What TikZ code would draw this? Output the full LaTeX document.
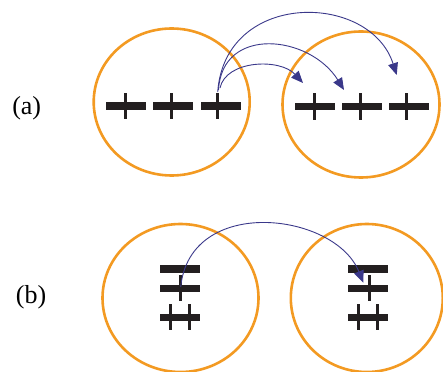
\documentclass[tikz,border=0pt]{standalone}
\usepackage{fontspec}
\setmainfont{Liberation Serif}
\usetikzlibrary{arrows.meta,shapes.geometric}
\definecolor{shell}{RGB}{243,154,34}
\definecolor{ink}{RGB}{35,31,32}
\definecolor{hop}{RGB}{58,56,138}
\tikzset{
  atom/.style={draw=shell, line width=2.6pt, ellipse, inner sep=0pt},
  hopline/.style={draw=hop, line width=0.9pt, -{Triangle[length=12pt,width=10pt]}},
  tag/.style={font=\fontsize{26}{30}\selectfont, inner sep=0pt},
  pics/charge/.style={code={
    \fill[ink] (-20,-3.7) rectangle (20,3.7);
    \fill[ink] (-#1-1.5,-13.2) rectangle (-#1+1.5,13.2);}},
  pics/hbar/.style={code={\fill[ink] (-20,-3.7) rectangle (20,3.7);}},
  pics/vtick/.style={code={\fill[ink] (-1.5,-13) rectangle (1.5,13);}},
}
\begin{document}
\begin{tikzpicture}[x=1pt,y=-1pt]
\useasboundingbox (0,0) rectangle (443,371);

% ---- (a) row ----
\node[tag] (la) at (26.7,108) {(a)};
\node[atom, minimum width=156, minimum height=147] (A1) at (171.7,102) {};
\node[atom, minimum width=157, minimum height=146] (A2) at (361,104.5) {};

\pic at (125.9,106) {charge=0.6};
\pic at (173.3,106) {charge=2.3};
\pic at (220.8,106) {charge=3.1};
\pic at (314.7,106.5) {charge=0.4};
\pic at (362,106.5) {charge=1.3};
\pic at (409,106.5) {charge=2.3};

\coordinate (s1) at (220,88);
\coordinate (s2) at (218.5,90);
\coordinate (s3) at (217.7,92);
\coordinate (t1) at (303,83);
\coordinate (t2) at (344,90);
\coordinate (t3) at (396.7,75);

\draw[hopline] (s1) .. controls (226,60) and (280,58) .. (t1);
\draw[hopline] (s2) .. controls (222,25) and (310,35) .. (t2);
\draw[hopline] (s3) .. controls (225,-10) and (370,-8) .. (t3);

% ---- (b) row ----
\node[tag] (lb) at (31,297.5) {(b)};
\node[atom, minimum width=156, minimum height=148] (B1) at (180.5,298) {};
\node[atom, minimum width=152, minimum height=148] (B2) at (366.8,298) {};

\pic at (180,269) {hbar};
\pic at (180,288.7) {hbar};
\pic at (180,317.5) {hbar};
\pic at (180.7,288) {vtick};
\pic at (170,317) {vtick};
\pic at (189,317) {vtick};

\pic at (368.3,269) {hbar};
\pic at (368.3,288.7) {hbar};
\pic at (368.3,317.5) {hbar};
\pic at (369,288) {vtick};
\pic at (358.3,317) {vtick};
\pic at (377.3,317) {vtick};

\coordinate (sb) at (180.7,287);
\coordinate (tb) at (363.3,282.7);
\draw[hopline] (sb) .. controls (190,195) and (335,212) .. (tb);
\end{tikzpicture}
\end{document}
